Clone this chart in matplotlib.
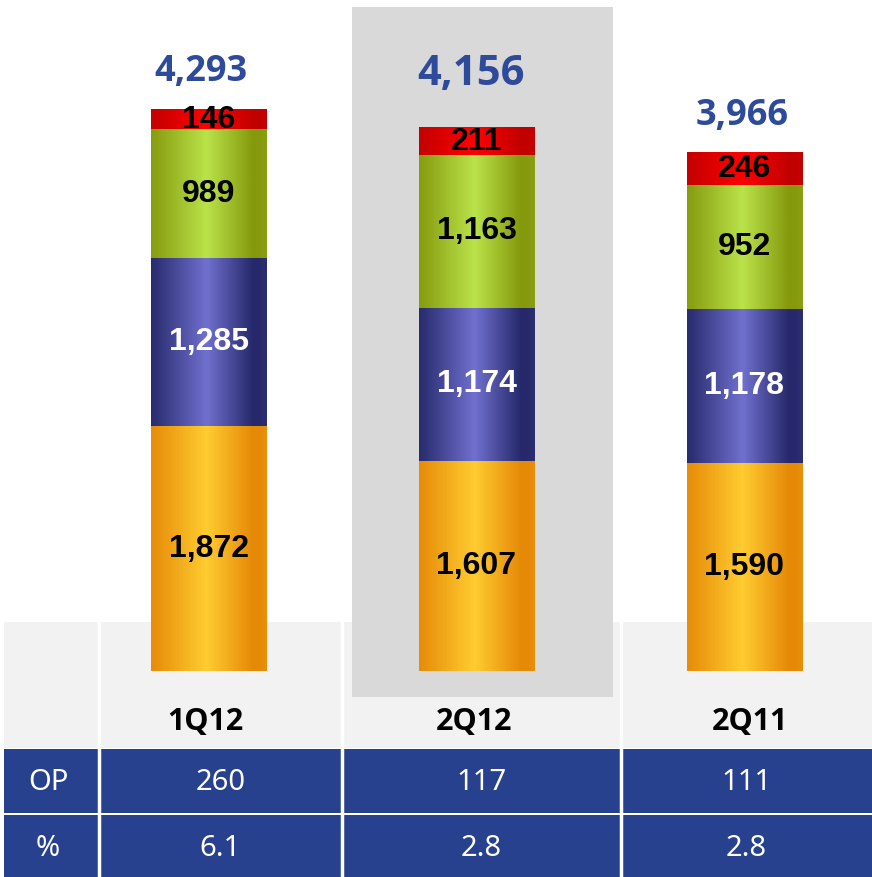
import numpy as np
import matplotlib
matplotlib.use("Agg")
from matplotlib import pyplot as plt
from matplotlib.patches import Rectangle

# data
categories = ["1Q12", "2Q12", "2Q11"]
seg_orange = [1872, 1607, 1590]
seg_blue = [1285, 1174, 1178]
seg_green = [989, 1163, 952]
seg_red = [146, 211, 246]
totals = [4293, 4156, 3966]
op_values = [260, 117, 111]
op_pct = [6.1, 2.8, 2.8]

W, H = 872, 877
fig = plt.figure(figsize=(W / 100, H / 100), dpi=100)

# background axes in pixel layout coords (table + highlight)
bg = fig.add_axes([0, 0, 1, 1], zorder=0)
bg.set_xlim(0, W)
bg.set_ylim(H, 0)
bg.axis("off")

TABLE_BLUE = "#27418F"
col_edges = [4, 99, 342, 621, W]
bg.add_patch(Rectangle((4, 622), W - 4, 126, color="#F2F2F2", lw=0))
for xe in col_edges[1:-1]:
    bg.plot([xe, xe], [622, H], color="white", lw=2.5, zorder=3)
bg.add_patch(Rectangle((352, 7), 261, 690, color="#D9D9D9", lw=0, zorder=1))
bg.add_patch(Rectangle((4, 749), W - 4, 64, color=TABLE_BLUE, lw=0, zorder=2))
bg.add_patch(Rectangle((4, 815), W - 4, 62, color=TABLE_BLUE, lw=0, zorder=2))

tfont = ["Noto Sans", "DejaVu Sans"]
rows = [("OP", [str(v) for v in op_values], 782), ("%", [f"{v:.1f}" for v in op_pct], 849)]
for label, vals, yc in rows:
    bg.text(48, yc, label, color="white", fontsize=21, family=tfont,
            fontweight="light", ha="center", va="center", zorder=4)
    for i, v in enumerate(vals):
        xc = (col_edges[i + 1] + col_edges[i + 2]) / 2
        bg.text(xc, yc, v, color="white", fontsize=21, family=tfont,
                fontweight="light", ha="center", va="center", zorder=4)

# bar axes in data coords
ax = fig.add_axes([0, 0, 1, 1], zorder=1)
ax.patch.set_alpha(0)
ax.axis("off")
k = 561 / 4292.0
x0, dx = 208.5, 268.0
ax.set_xlim(-x0 / dx, (W - x0) / dx)
ax.set_ylim(-(H - 671) / k, 671 / k)

stops_pos = [0, 0.05, 0.48, 0.88, 0.93, 1.0]
stops_t = [0.05, 0.12, 1.0, 0.0, 0.0, 0.08]
u = np.linspace(0, 1, 200)
t = np.interp(u, stops_pos, stops_t)


def gradient(edge, center):
    edge, center = np.array(edge), np.array(center)
    return (edge[None, :] * (1 - t[:, None]) + center[None, :] * t[:, None])[None, :, :]


seg_styles = [
    (seg_orange, (0.90, 0.54, 0.03), (1.0, 0.80, 0.19), "black"),
    (seg_blue, (0.15, 0.16, 0.42), (0.44, 0.44, 0.81), "white"),
    (seg_green, (0.52, 0.60, 0.05), (0.73, 0.89, 0.29), "black"),
    (seg_red, (0.76, 0.0, 0.0), (1.0, 0.0, 0.0), "black"),
]
bw = 0.43
xs = np.arange(len(categories))
bottoms = np.zeros(len(categories))
for vals, edge, center, tc in seg_styles:
    img = gradient(edge, center)
    for i, v in enumerate(vals):
        ax.imshow(img, extent=(xs[i] - bw / 2, xs[i] + bw / 2, bottoms[i], bottoms[i] + v),
                  aspect="auto", interpolation="bilinear", zorder=2)
        ax.text(xs[i], bottoms[i] + v / 2, f"{v:,}", color=tc, fontsize=23,
                fontweight="bold", family=["Liberation Sans", "DejaVu Sans"],
                ha="center", va="center", zorder=3)
    bottoms += np.array(vals)

total_sizes = [26, 30, 26]
total_gaps = [21, 31, 20]
total_dx = [-0.03, -0.02, -0.01]
for i, tot in enumerate(totals):
    ax.annotate(f"{tot:,}", (xs[i] + total_dx[i], bottoms[i]), xytext=(0, total_gaps[i]),
                textcoords="offset points", ha="center", va="baseline",
                fontsize=total_sizes[i], fontweight="bold", color="#2E4A9B",
                family=["Open Sans", "DejaVu Sans"], zorder=3)

label_dx = [-0.01, -0.01, 0.02]
for i, c in enumerate(categories):
    ax.text(xs[i] + label_dx[i], -(722 - 671) / k, c, fontsize=22, fontweight="bold",
            family=["Open Sans", "DejaVu Sans"], ha="center", va="center",
            color="black", zorder=3)

ax.set_xlim(-x0 / dx, (W - x0) / dx)
ax.set_ylim(-(H - 671) / k, 671 / k)

fig.savefig("out.png", dpi=100)
